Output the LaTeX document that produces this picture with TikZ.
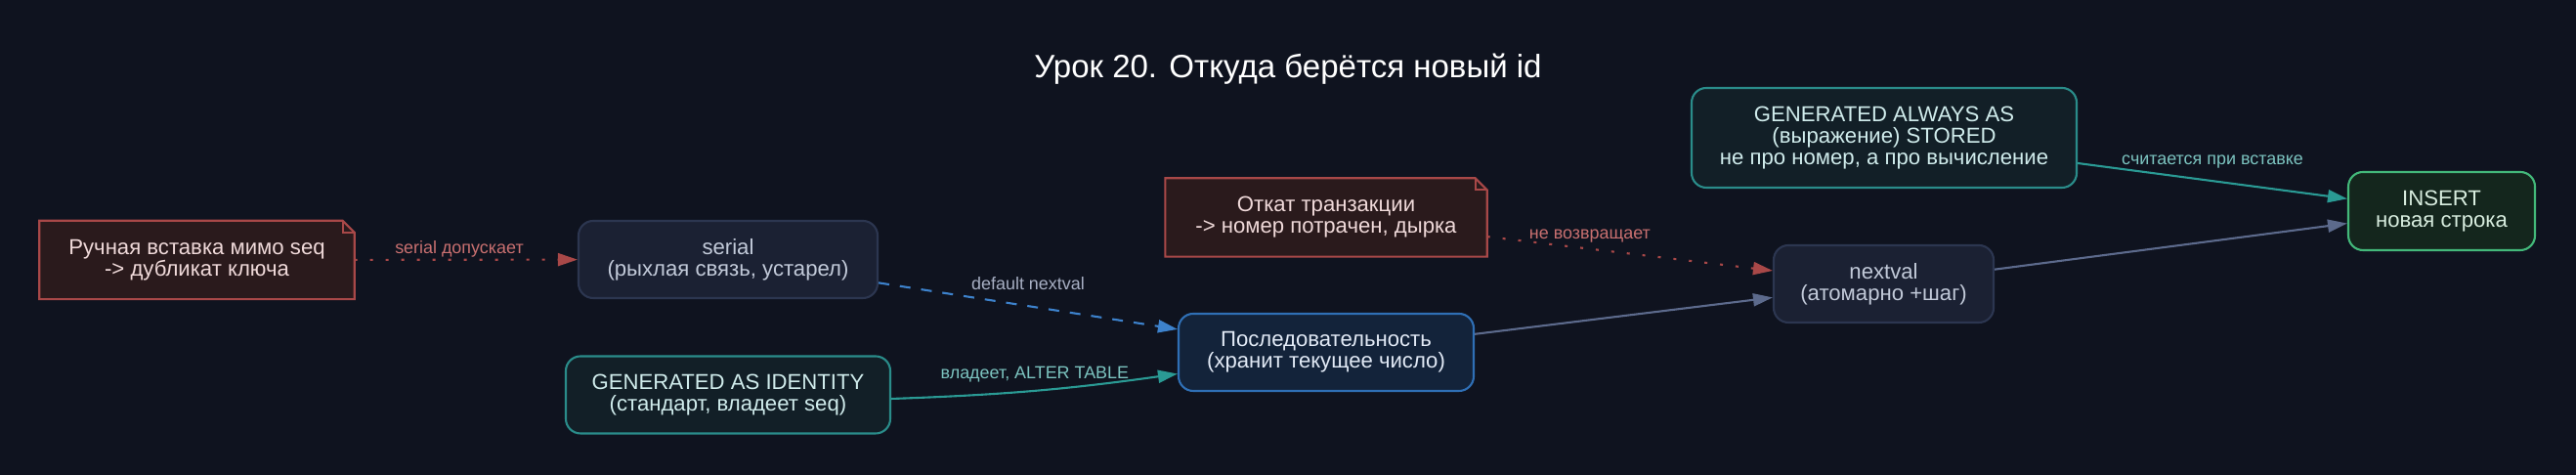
\documentclass[tikz,border=0pt]{standalone}
\usepackage{fontspec}
\setmainfont{Liberation Sans}
\usetikzlibrary{arrows.meta}

\definecolor{bgnight}{HTML}{0F131F}
\definecolor{notefill}{HTML}{2A1A1C}
\definecolor{noteline}{HTML}{A84848}
\definecolor{notetext}{HTML}{F0DADA}
\definecolor{slatefill}{HTML}{1B2133}
\definecolor{slateline}{HTML}{2C3650}
\definecolor{slatetext}{HTML}{C2CAD9}
\definecolor{tealfill}{HTML}{121F27}
\definecolor{tealline}{HTML}{2A8C8A}
\definecolor{tealtext}{HTML}{D0ECEC}
\definecolor{bluefill}{HTML}{13233A}
\definecolor{blueline}{HTML}{2F6FB5}
\definecolor{bluetext}{HTML}{E2EAF6}
\definecolor{greenfill}{HTML}{14261D}
\definecolor{greenline}{HTML}{43B87A}
\definecolor{greentext}{HTML}{D8EDDF}
\definecolor{edgered}{HTML}{A84848}
\definecolor{edgeblue}{HTML}{3D82CC}
\definecolor{edgeteal}{HTML}{2A9A94}
\definecolor{edgegrey}{HTML}{5C6A8C}
\definecolor{labelred}{HTML}{C97070}
\definecolor{labelgrey}{HTML}{A8B0C4}
\definecolor{labelteal}{HTML}{7CC4C0}

\newcommand{\boxfont}{\fontsize{6.3}{6.3}\selectfont}
\newcommand{\edgefont}{\fontsize{5.1}{5.1}\selectfont}

% folded corner of a note
\newcommand{\notefold}[1]{%
  \fill[bgnight] ([xshift=-0.12cm]#1.north east) -- (#1.north east) -- ([yshift=-0.12cm]#1.north east) -- cycle;
  \draw[noteline,line width=0.6pt] (#1.north west) -- ([xshift=-0.12cm]#1.north east) -- ([yshift=-0.12cm]#1.north east) -- (#1.south east) -- (#1.south west) -- cycle;
  \draw[noteline,line width=0.6pt] ([xshift=-0.12cm]#1.north east) -- ([xshift=-0.12cm,yshift=-0.12cm]#1.north east) -- ([yshift=-0.12cm]#1.north east);
}

\tikzset{
  box/.style={rounded corners=0.15cm, line width=0.6pt, minimum height=0.79cm, align=center, font=\boxfont, inner sep=0pt},
  slatebox/.style={box, draw=slateline, fill=slatefill, text=slatetext},
  tealbox/.style={box, draw=tealline, fill=tealfill, text=tealtext},
  bluebox/.style={box, draw=blueline, fill=bluefill, text=bluetext},
  greenbox/.style={box, draw=greenline, fill=greenfill, text=greentext},
  notebox/.style={fill=notefill, text=notetext, minimum height=0.79cm, align=center, font=\boxfont, inner sep=0pt},
  flow/.style={->, line width=0.6pt},
  elabel/.style={font=\edgefont, inner sep=0.5pt},
  headline/.style={font=\fontsize{9.4}{11}\selectfont, text=white},
}

\begin{document}
\begin{tikzpicture}[>={Triangle[length=0.2cm,width=0.13cm]}]
  \fill[bgnight] (0,0) rectangle (26.36,4.86);

  \node[headline] (head) at (13.18,4.15) {Урок 20. Откуда берётся новый id};

  \node[notebox, minimum width=3.21cm] (manual) at (2.015,2.20) {Ручная вставка мимо seq\\-> дубликат ключа};
  \notefold{manual}
  \node[slatebox, minimum width=3.06cm] (serial) at (7.45,2.205) {serial\\(рыхлая связь, устарел)};
  \node[tealbox, minimum width=3.32cm] (identity) at (7.45,0.82) {GENERATED AS IDENTITY\\(стандарт, владеет seq)};
  \node[bluebox, minimum width=3.02cm] (seq) at (13.57,1.255) {Последовательность\\(хранит текущее число)};
  \node[notebox, minimum width=3.28cm] (rollback) at (13.57,2.635) {Откат транзакции\\-> номер потрачен, дырка};
  \notefold{rollback}
  \node[slatebox, minimum width=2.25cm] (nextval) at (19.275,1.955) {nextval\\(атомарно +шаг)};
  \node[tealbox, minimum width=3.94cm, minimum height=1.02cm] (always) at (19.28,3.45) {GENERATED ALWAYS AS\\(выражение) STORED\\не про номер, а про вычисление};
  \node[greenbox, minimum width=1.91cm, minimum height=0.80cm] (insert) at (24.985,2.70) {INSERT\\новая строка};

  \draw[flow, edgered, dash pattern=on 0.03cm off 0.13cm] (manual) -- (serial)
    node[elabel, pos=0.47, above, text=labelred] {serial допускает};
  \draw[flow, edgeblue, dash pattern=on 0.11cm off 0.11cm] (serial) -- (seq)
    node[elabel, midway, above=0.14cm, text=labelgrey] {default nextval};
  \draw[flow, edgeteal] ([yshift=-0.04cm]identity.east) to[bend right=3]
    node[elabel, midway, above=0.06cm, text=labelteal] {владеет, ALTER TABLE} ([yshift=-0.22cm]seq.west);
  \draw[flow, edgegrey] (seq) -- (nextval);
  \draw[flow, edgered, dash pattern=on 0.03cm off 0.13cm] (rollback) -- (nextval)
    node[elabel, pos=0.36, above=0.04cm, text=labelred] {не возвращает};
  \draw[flow, edgegrey] (nextval) -- (insert);
  \draw[flow, edgeteal] (always) -- (insert)
    node[elabel, midway, above=0.1cm, text=labelteal] {считается при вставке};
\end{tikzpicture}
\end{document}
